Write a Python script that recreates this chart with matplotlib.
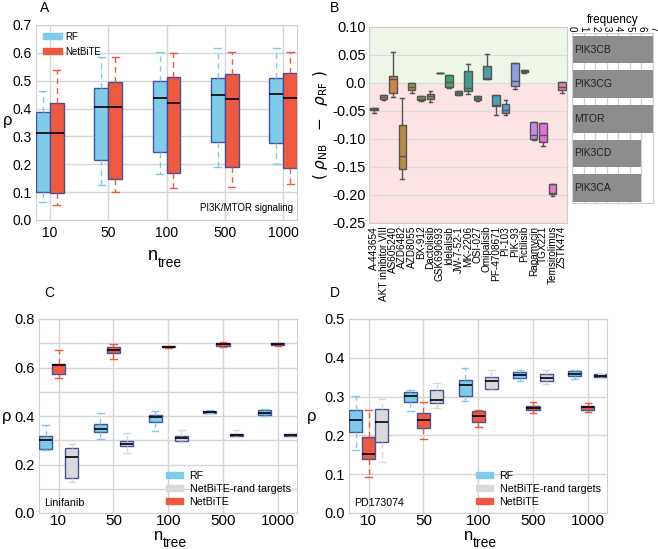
import matplotlib
matplotlib.use("Agg")
import matplotlib.pyplot as plt
import matplotlib.patches as mpatches
import seaborn as sns

plt.rcParams['font.family'] = ['Liberation Sans', 'DejaVu Sans']

# ---------------- data ----------------
ntree = ['10', '50', '100', '500', '1000']

# (whisker low, q1, median, q3, whisker high)
a_rf = [(0.063, 0.102, 0.311, 0.387, 0.464), (0.126, 0.217, 0.407, 0.475, 0.584),
        (0.165, 0.243, 0.437, 0.499, 0.604), (0.191, 0.281, 0.449, 0.509, 0.616),
        (0.200, 0.278, 0.452, 0.509, 0.619)]
a_nb = [(0.054, 0.098, 0.311, 0.419, 0.538), (0.099, 0.146, 0.407, 0.494, 0.586),
        (0.114, 0.170, 0.419, 0.513, 0.598), (0.117, 0.191, 0.434, 0.524, 0.602),
        (0.128, 0.188, 0.437, 0.527, 0.602)]

c_rf = [(0.260, 0.263, 0.301, 0.318, 0.364), (0.307, 0.334, 0.346, 0.368, 0.412),
        (0.340, 0.377, 0.397, 0.405, 0.422), (0.413, 0.414, 0.418, 0.422, 0.424),
        (0.400, 0.403, 0.412, 0.425, 0.429)]
c_rand = [(0.126, 0.146, 0.231, 0.267, 0.286), (0.246, 0.275, 0.286, 0.297, 0.329),
          (0.293, 0.298, 0.311, 0.319, 0.341), (0.313, 0.316, 0.322, 0.327, 0.341),
          (0.315, 0.316, 0.320, 0.324, 0.330)]
c_nb = [(0.558, 0.572, 0.612, 0.614, 0.674), (0.634, 0.658, 0.672, 0.683, 0.698),
        (0.681, 0.683, 0.685, 0.687, 0.689), (0.686, 0.689, 0.697, 0.702, 0.704),
        (0.689, 0.691, 0.696, 0.700, 0.702)]

d_rf = [(0.162, 0.210, 0.240, 0.265, 0.302), (0.263, 0.285, 0.301, 0.313, 0.317),
        (0.289, 0.302, 0.331, 0.342, 0.375), (0.340, 0.349, 0.356, 0.363, 0.368),
        (0.345, 0.353, 0.359, 0.365, 0.369)]
d_rand = [(0.131, 0.183, 0.235, 0.268, 0.293), (0.271, 0.283, 0.292, 0.317, 0.335),
          (0.317, 0.319, 0.339, 0.350, 0.369), (0.332, 0.341, 0.349, 0.357, 0.369),
          (0.349, 0.350, 0.354, 0.357, 0.359)]
d_nb = [(0.094, 0.140, 0.152, 0.196, 0.265), (0.192, 0.220, 0.240, 0.259, 0.285),
        (0.222, 0.234, 0.251, 0.263, 0.265), (0.257, 0.265, 0.271, 0.277, 0.287),
        (0.260, 0.266, 0.272, 0.277, 0.283)]

drugs = ['A-443654', 'AKT inhibitor VIII', 'AS605240', 'AZD6482', 'AZD8055', 'BX-912',
         'Dactolisib', 'GSK690693', 'Idelalisib', 'JW-7-52-1', 'MK-2206', 'OSI-027',
         'Omipalisib', 'PF-4708671', 'PI-103', 'PIK-93', 'Pictilisib', 'Rapamycin',
         'TGX221', 'Temsirolimus', 'ZSTK474']
b_diff = [(-0.054, -0.049, -0.047, -0.045, -0.045), (-0.030, -0.029, -0.025, -0.022, -0.022),
          (-0.025, -0.018, 0.007, 0.013, 0.055), (-0.172, -0.154, -0.130, -0.075, -0.027),
          (-0.018, -0.013, -0.007, 0.000, 0.000), (-0.033, -0.031, -0.028, -0.024, -0.024),
          (-0.034, -0.029, -0.024, -0.020, -0.015), (0.017, 0.017, 0.018, 0.018, 0.018),
          (-0.009, -0.007, 0.002, 0.015, 0.015), (-0.022, -0.021, -0.018, -0.014, -0.014),
          (-0.020, -0.015, -0.009, 0.021, 0.034), (-0.032, -0.031, -0.027, -0.023, -0.023),
          (0.008, 0.008, 0.0095, 0.031, 0.051), (-0.058, -0.041, -0.040, -0.022, -0.022),
          (-0.058, -0.053, -0.049, -0.037, -0.031), (-0.010, -0.005, 0.004, 0.036, 0.036),
          (0.018, 0.019, 0.021, 0.024, 0.024), (-0.101, -0.100, -0.093, -0.070, -0.070),
          (-0.113, -0.106, -0.092, -0.072, -0.072), (-0.202, -0.198, -0.197, -0.180, -0.180),
          (-0.017, -0.012, -0.008, 0.001, 0.001)]

genes = ['PIK3CB', 'PIK3CG', 'MTOR', 'PIK3CD', 'PIK3CA']
gene_freq = [7, 7, 7, 6, 6]

# ---------------- style ----------------
RF_C = '#7fcbea'
NB_C = '#ef5a3f'
RAND_C = '#d9d9d9'
EDGE = '#4552a0'
GRID = '#d6d6d6'
SPINE = '#cfcfcf'

W, H = 658, 549
fig = plt.figure(figsize=(W / 100, H / 100), dpi=100)


def ax_px(l, t, r, b):
    return fig.add_axes([l / W, 1 - b / H, (r - l) / W, (b - t) / H])


def to_stats(rows):
    return [dict(whislo=r[0], q1=r[1], med=r[2], q3=r[3], whishi=r[4], fliers=[]) for r in rows]


def draw_group(ax, rows, offset, width, fill, wcolor):
    pos = [i + offset for i in range(len(rows))]
    ax.bxp(to_stats(rows), positions=pos, widths=width, patch_artist=True,
           showfliers=False, manage_ticks=False, capwidths=width * 0.5,
           boxprops=dict(facecolor=fill, edgecolor=EDGE, linewidth=1.0),
           whiskerprops=dict(color=wcolor, linestyle=(0, (4, 3)), linewidth=1.0),
           capprops=dict(color=wcolor, linewidth=1.0),
           medianprops=dict(color='black', linewidth=1.2), zorder=3)


def style_axes(ax, ylim, yticks, xfs=10, yfs=10, xpad=4):
    ax.set_xlim(-0.3, 4.3)
    ax.set_ylim(*ylim)
    ax.set_xticks(range(5))
    ax.set_xticklabels(ntree, fontsize=xfs)
    ax.set_yticks(yticks)
    ax.set_yticklabels(['%.1f' % v for v in yticks], fontsize=yfs)
    ax.grid(True, color=GRID, linewidth=1.0, zorder=0)
    ax.set_axisbelow(True)
    ax.tick_params(axis='y', length=0, pad=3)
    ax.tick_params(axis='x', length=0, pad=xpad)
    for s in ax.spines.values():
        s.set_color(SPINE)


def xlabel_ntree(xc, y, fs=13):
    fig.text(xc / W, 1 - y / H, 'n', fontsize=fs, ha='right', va='center')
    fig.text(xc / W, 1 - (y + 8) / H, 'tree', fontsize=10, ha='left', va='center')


# ---------------- Panel A ----------------
axA = ax_px(36, 25, 297, 220)
style_axes(axA, (0, 0.7), [0.0, 0.1, 0.2, 0.3, 0.4, 0.5, 0.6, 0.7])
axA.set_xlim(-0.24, 4.24)
draw_group(axA, a_rf, -0.12, 0.24, RF_C, RF_C)
draw_group(axA, a_nb, 0.12, 0.24, NB_C, NB_C)
axA.legend(handles=[mpatches.Patch(color=RF_C, label='RF'), mpatches.Patch(color=NB_C, label='NetBiTE')],
           loc='upper left', frameon=False, fontsize=7, handlelength=2.0, handleheight=0.6,
           handletextpad=0.3, labelspacing=0.5, borderaxespad=0.3)
axA.text(0.985, 0.035, 'PI3K/MTOR signaling', transform=axA.transAxes, ha='right', va='bottom', fontsize=7)
fig.text(3 / W, 1 - 121 / H, 'ρ', fontsize=12, ha='left', va='center')
xlabel_ntree(158, 255)
fig.text(40 / W, 1 - 8 / H, 'A', fontsize=10, ha='left', va='center')

# ---------------- Panel B ----------------
axB = ax_px(369, 27, 567, 223)
axB.axhspan(0, 0.10, color='#eef6e8', zorder=0, linewidth=0)
axB.axhspan(-0.25, 0, color='#fce4e4', zorder=0, linewidth=0)
pal = sns.color_palette('husl', len(drugs), desat=0.75)
bst = to_stats(b_diff)
bp = axB.bxp(bst, positions=list(range(len(drugs))), widths=0.8, patch_artist=True,
             showfliers=False, manage_ticks=False, capwidths=0.4,
             boxprops=dict(edgecolor='#555555', linewidth=1.0),
             whiskerprops=dict(color='#555555', linewidth=1.0),
             capprops=dict(color='#555555', linewidth=1.0),
             medianprops=dict(color='#555555', linewidth=1.0), zorder=3)
for patch, c in zip(bp['boxes'], pal):
    patch.set_facecolor(c)
axB.set_xlim(-0.55, len(drugs) - 0.45)
axB.set_ylim(-0.25, 0.10)
byt = [0.10, 0.05, 0.0, -0.05, -0.10, -0.15, -0.20, -0.25]
axB.set_yticks(byt)
axB.set_yticklabels(['0.10', '0.05', '0.0', '-0.05', '-0.10', '-0.15', '-0.20', '-0.25'], fontsize=10.5)
axB.set_xticks(range(len(drugs)))
axB.set_xticklabels(drugs, rotation=90, fontsize=7.2)
axB.yaxis.grid(True, color='#dcdcdc', linewidth=0.9, zorder=1)
axB.set_axisbelow(True)
axB.tick_params(length=0, pad=2)
for s in axB.spines.values():
    s.set_color(SPINE)
axB.set_ylabel(r'$(\ \rho_{\mathrm{NB}}\ \ -\ \ \rho_{\mathrm{RF}}\ )$', fontsize=11, labelpad=2)
fig.text(330 / W, 1 - 8 / H, 'B', fontsize=10, ha='left', va='center')

# frequency panel
axF = ax_px(572, 33, 653, 203)
axF.barh(range(len(genes)), gene_freq, height=0.8, color='#8c8c8c', zorder=2)
for i, g in enumerate(genes):
    axF.text(0.2, i, g, ha='left', va='center', fontsize=7.5, color='#222222', zorder=3)
axF.set_xlim(0, 7)
axF.set_ylim(len(genes) - 0.57, -0.48)
axF.set_yticks([])
axF.xaxis.tick_top()
axF.xaxis.set_label_position('top')
axF.set_xticks(range(8))
axF.set_xticklabels([str(v) for v in range(8)], rotation=-90, fontsize=7)
axF.tick_params(length=0, pad=1)
axF.xaxis.grid(True, color='#d0d0d0', linewidth=0.9, zorder=0)
axF.set_axisbelow(True)
axF.set_xlabel('frequency', fontsize=8.5, labelpad=2)
for s in axF.spines.values():
    s.set_color(SPINE)

# ---------------- Panel C ----------------
axC = ax_px(39, 319, 297, 513)
style_axes(axC, (0, 0.8), [0.0, 0.2, 0.4, 0.6, 0.8], xfs=11, yfs=10.5, xpad=1)
axC.set_yticks([0.1, 0.3, 0.5, 0.7], minor=True)
axC.tick_params(which='minor', length=0)
axC.grid(True, which='minor', axis='y', color=GRID, linewidth=1.0)
axC.set_xlim(-0.36, 4.35)
draw_group(axC, c_rf, -0.24, 0.24, RF_C, RF_C)
draw_group(axC, c_nb, 0.0, 0.24, NB_C, NB_C)
draw_group(axC, c_rand, 0.24, 0.24, RAND_C, RAND_C)
legC = [mpatches.Patch(color=RF_C, label='RF'), mpatches.Patch(color=RAND_C, label='NetBiTE-rand targets'),
        mpatches.Patch(color=NB_C, label='NetBiTE')]
axC.legend(handles=legC, loc='lower right', frameon=False, fontsize=7.7, handlelength=1.6,
           handleheight=0.5, handletextpad=0.6, labelspacing=0.25, borderaxespad=0.2)
axC.text(0.02, 0.05, 'Linifanib', transform=axC.transAxes, ha='left', va='center', fontsize=7.7)
fig.text(2 / W, 1 - 416 / H, 'ρ', fontsize=12, ha='left', va='center')
xlabel_ntree(163, 535, fs=12)
fig.text(44 / W, 1 - 293 / H, 'C', fontsize=10, ha='left', va='center')

# ---------------- Panel D ----------------
axD = ax_px(349, 319, 607, 513)
style_axes(axD, (0, 0.5), [0.0, 0.1, 0.2, 0.3, 0.4, 0.5], xfs=11, yfs=10.5, xpad=1)
axD.set_xlim(-0.36, 4.35)
draw_group(axD, d_rf, -0.24, 0.24, RF_C, RF_C)
draw_group(axD, d_nb, 0.0, 0.24, NB_C, NB_C)
draw_group(axD, d_rand, 0.24, 0.24, RAND_C, RAND_C)
legD = [mpatches.Patch(color=RF_C, label='RF'), mpatches.Patch(color=RAND_C, label='NetBiTE-rand targets'),
        mpatches.Patch(color=NB_C, label='NetBiTE')]
axD.legend(handles=legD, loc='lower right', frameon=False, fontsize=7.7, handlelength=1.6,
           handleheight=0.5, handletextpad=0.6, labelspacing=0.25, borderaxespad=0.2)
axD.text(0.02, 0.05, 'PD173074', transform=axD.transAxes, ha='left', va='center', fontsize=7.7)
fig.text(307 / W, 1 - 416 / H, 'ρ', fontsize=12, ha='left', va='center')
xlabel_ntree(473, 535, fs=12)
fig.text(330 / W, 1 - 293 / H, 'D', fontsize=10, ha='left', va='center')

fig.savefig('out.png', dpi=100)
